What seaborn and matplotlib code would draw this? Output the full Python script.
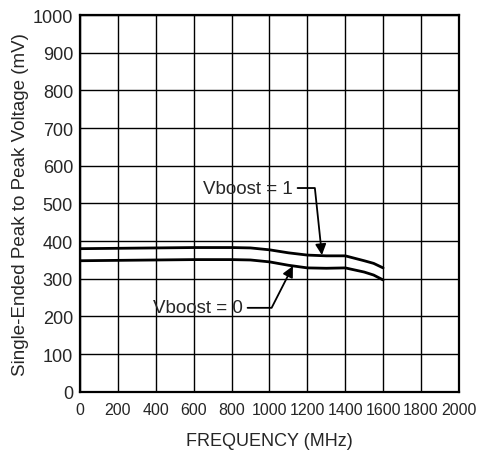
import pandas as pd
import seaborn as sns
import matplotlib.pyplot as plt

# data
freq_mhz = [0, 200, 400, 600, 800, 900, 1000, 1100, 1200, 1300, 1400, 1500, 1550, 1600]
vboost_1 = [380, 381, 382, 383, 383, 382, 377, 369, 363, 361, 361, 348, 341, 329]
vboost_0 = [348, 349, 350, 351, 351, 350, 345, 336, 329, 328, 329, 318, 310, 297]

x_ticks = list(range(0, 2001, 200))
y_ticks = list(range(0, 1001, 100))

df = pd.DataFrame({
    'Frequency': freq_mhz * 2,
    'Voltage': vboost_1 + vboost_0,
    'Mode': ['Vboost = 1'] * len(freq_mhz) + ['Vboost = 0'] * len(freq_mhz),
})

sns.set_style('white')
plt.rcParams['font.family'] = ['Liberation Sans', 'DejaVu Sans']

fig = plt.figure(figsize=(4.79, 4.60), dpi=100)
ax = fig.add_axes([0.167, 0.146, 0.791, 0.819])

sns.lineplot(data=df, x='Frequency', y='Voltage', units='Mode', estimator=None,
             color='black', linewidth=2.0, ax=ax, legend=False)

ax.set_xlim(0, 2000)
ax.set_ylim(0, 1000)
ax.set_xticks(x_ticks)
ax.set_yticks(y_ticks)
ax.tick_params(axis='x', labelsize=11.5, length=0, pad=7)
ax.tick_params(axis='y', labelsize=13, length=0, pad=5)
ax.grid(True, color='black', linewidth=1.0)
ax.set_axisbelow(True)
for s in ax.spines.values():
    s.set_color('black')
    s.set_linewidth(1.6)

ax.set_xlabel('FREQUENCY (MHz)', fontsize=13, labelpad=11)
ax.set_ylabel('Single-Ended Peak to Peak Voltage (mV)', fontsize=13.5, labelpad=3)

# callouts
ax.annotate('Vboost = 1', xy=(1277, 363), xytext=(1124, 541),
            ha='right', va='center', fontsize=13.5,
            arrowprops=dict(arrowstyle='-|>', color='black', lw=1.3,
                            mutation_scale=16, shrinkA=1, shrinkB=0,
                            connectionstyle='angle,angleA=0,angleB=96,rad=0'))
ax.annotate('Vboost = 0', xy=(1124, 334), xytext=(860, 223),
            ha='right', va='center', fontsize=13.5,
            arrowprops=dict(arrowstyle='-|>', color='black', lw=1.3,
                            mutation_scale=16, shrinkA=1, shrinkB=0,
                            connectionstyle='angle,angleA=0,angleB=243,rad=0'))

plt.savefig('out.png', dpi=100)
